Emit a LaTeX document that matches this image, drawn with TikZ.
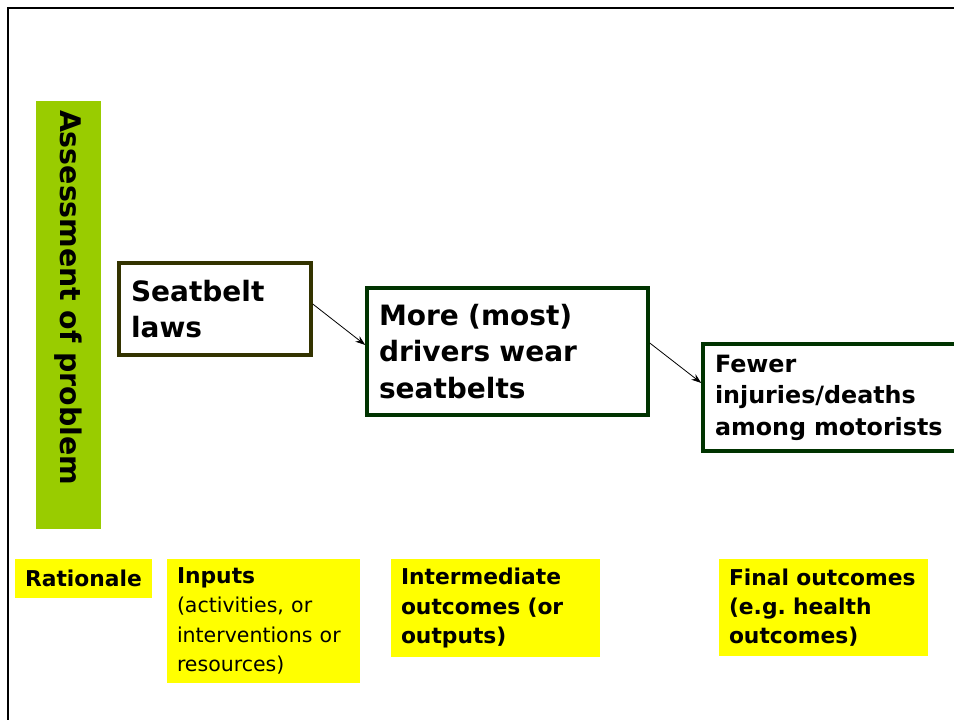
\documentclass[tikz,border=0pt]{standalone}
\usepackage{fontspec}
\setmainfont{DejaVu Sans}
\usetikzlibrary{arrows.meta}
\definecolor{barGreen}{HTML}{99CC00}
\definecolor{labelYellow}{HTML}{FFFF00}
\definecolor{oliveEdge}{HTML}{333300}
\definecolor{greenEdge}{HTML}{003300}
\frenchspacing
% keep every typed line on one line
\newcommand{\oneline}[1]{\mbox{#1}}
\begin{document}
\begin{tikzpicture}[x=1pt,y=-1pt,
  stage/.style={draw, line width=3.5pt, fill=white, align=left,
    inner xsep=12pt, inner ysep=0pt, font=\bfseries\fontsize{28}{36.5}\selectfont},
  tag/.style={fill=labelYellow, align=left, inner xsep=10pt, inner ysep=0pt,
    font=\bfseries\fontsize{21.8}{29.3}\selectfont},
  link/.style={-{Stealth[length=10pt,width=7pt]}, line width=0.8pt}]
\useasboundingbox (0,0) rectangle (954,720);
\fill[white] (0,0) rectangle (954,720);
% outer frame, open to the right and bottom
\draw[line width=2pt] (8,730) -- (8,8) -- (960,8);

% vertical rationale bar
\node[fill=barGreen, rotate=-90, minimum width=428pt, minimum height=65pt,
  text width=410pt, align=left, inner xsep=9pt, inner ysep=0pt,
  font=\bfseries\fontsize{28.4}{36}\selectfont] (bar) at (68.5,315) {\oneline{Assessment of problem}};

% chain of stages
\node[stage, draw=oliveEdge, minimum width=192pt, minimum height=92pt, text width=168pt]
  (laws) at (215,309) {Seatbelt\\laws};
\node[stage, draw=greenEdge, minimum width=281pt, minimum height=127pt, text width=257pt]
  (wear) at (507.5,351.5) {\oneline{More (most)}\\\oneline{drivers wear}\\seatbelts};
\node[stage, draw=greenEdge, minimum width=290pt, minimum height=107pt, text width=266pt,
  font=\bfseries\fontsize{23.8}{31.5}\selectfont]
  (fewer) at (848,397.5) {Fewer\\injuries/deaths\\\oneline{among motorists}};

\draw[link] ([yshift=5pt]laws.east) -- ([yshift=6.5pt]wear.west);
\draw[link] ([yshift=8.5pt]wear.east) -- ([yshift=14.5pt]fewer.west);

% column labels
\node[tag, minimum width=137pt, minimum height=39pt, text width=117pt]
  (rationale) at (83.5,578.5) {Rationale};
\node[tag, minimum width=193pt, minimum height=124pt, text width=173pt]
  (inputs) at (263.5,621) {Inputs\\\mdseries\fontsize{20.5}{29.3}\selectfont
  \oneline{(activities, or}\\\oneline{interventions or}\\resources)};
\node[tag, minimum width=209pt, minimum height=98pt, text width=189pt]
  (intermediate) at (495.5,608) {Intermediate\\\oneline{outcomes (or}\\outputs)};
\node[tag, minimum width=209pt, minimum height=97pt, text width=189pt]
  (final) at (823.5,607.5) {\oneline{Final outcomes}\\\oneline{(e.g. health}\\outcomes)};
\end{tikzpicture}
\end{document}
